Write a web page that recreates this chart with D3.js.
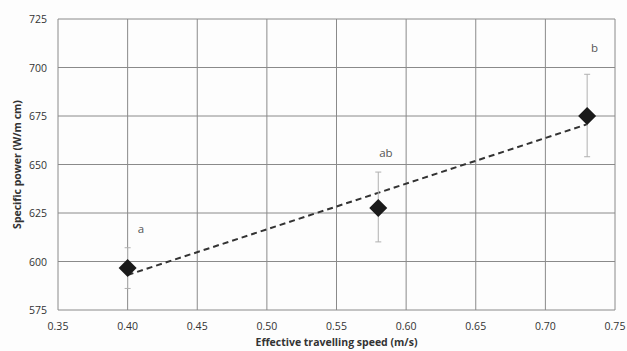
<!DOCTYPE html>
<html>
<head>
<meta charset="utf-8">
<script src="https://cdn.jsdelivr.net/npm/d3@7"></script>
<style>
  body { margin: 0; background: #fff; }
  text { font-family: "Open Sans", "Liberation Sans", sans-serif; }
</style>
</head>
<body>
<svg id="drawspace" width="627" height="351"></svg>
<script>
let speed = [0.40, 0.58, 0.73];
let power = [596.6, 627.6, 675.0];
let errUp = [10.5, 18.5, 21.5];
let errDown = [10.5, 17.5, 21.0];
let letters = ["a", "ab", "b"];
let letterX = [0.4096, 0.5855, 0.7353];
let letterY = [614.8, 653.7, 708.0];
let xTicks = [0.35, 0.40, 0.45, 0.50, 0.55, 0.60, 0.65, 0.70, 0.75];
let yTicks = [575, 600, 625, 650, 675, 700, 725];

let svg = d3.select("#drawspace");
let plotL = 58, plotR = 615, plotT = 19, plotB = 310;

let x = d3.scaleLinear().domain([0.35, 0.75]).range([plotL, plotR]);
let y = d3.scaleLinear().domain([575, 725]).range([plotB, plotT]);

svg.append("rect").attr("width", 627).attr("height", 351).attr("fill", "#fdfdfd");

// grid
svg.append("g")
  .selectAll("line")
  .data(xTicks)
  .enter()
  .append("line")
  .attr("x1", d => x(d)).attr("x2", d => x(d))
  .attr("y1", plotT).attr("y2", plotB)
  .attr("stroke", "#8a8a8a").attr("stroke-width", 1);

svg.append("g")
  .selectAll("line")
  .data(yTicks)
  .enter()
  .append("line")
  .attr("x1", plotL).attr("x2", plotR)
  .attr("y1", d => y(d)).attr("y2", d => y(d))
  .attr("stroke", "#8a8a8a").attr("stroke-width", 1);

// tick labels
svg.append("g")
  .selectAll("text")
  .data(xTicks)
  .enter()
  .append("text")
  .attr("x", d => x(d)).attr("y", plotB + 20)
  .attr("text-anchor", "middle")
  .attr("font-size", 10.5).attr("fill", "#333")
  .text(d => d.toFixed(2));

svg.append("g")
  .selectAll("text")
  .data(yTicks)
  .enter()
  .append("text")
  .attr("x", plotL - 11).attr("y", d => y(d) + 4)
  .attr("text-anchor", "end")
  .attr("font-size", 10.5).attr("fill", "#333")
  .text(d => d);

// axis titles
svg.append("text")
  .attr("x", (plotL + plotR) / 2).attr("y", 346)
  .attr("text-anchor", "middle")
  .attr("font-size", 10.5).attr("font-weight", "bold").attr("fill", "#333")
  .text("Effective travelling speed (m/s)");

svg.append("text")
  .attr("transform", "translate(21," + (plotT + plotB) / 2 + ") rotate(-90)")
  .attr("text-anchor", "middle")
  .attr("font-size", 10.5).attr("font-weight", "bold").attr("fill", "#333")
  .text("Specific power (W/m cm)");

// trend line (least squares)
let mx = d3.mean(speed), my = d3.mean(power);
let sxy = d3.sum(speed, (d, i) => (d - mx) * (power[i] - my));
let sxx = d3.sum(speed, d => (d - mx) * (d - mx));
let slope = sxy / sxx, icpt = my - slope * mx;
let xs = d3.extent(speed);
svg.append("path")
  .attr("d", d3.line()(xs.map(v => [x(v), y(icpt + slope * v)])))
  .attr("stroke", "#333").attr("stroke-width", 2)
  .attr("stroke-dasharray", "6,4").attr("fill", "none");

// error bars
let eb = svg.append("g").attr("stroke", "#b0b0b0").attr("stroke-width", 1);
speed.forEach((s, i) => {
  let cx = x(s), hi = y(power[i] + errUp[i]), lo = y(power[i] - errDown[i]);
  eb.append("line").attr("x1", cx).attr("x2", cx).attr("y1", hi).attr("y2", lo);
  eb.append("line").attr("x1", cx - 3).attr("x2", cx + 3).attr("y1", hi).attr("y2", hi);
  eb.append("line").attr("x1", cx - 3).attr("x2", cx + 3).attr("y1", lo).attr("y2", lo);
});

// diamonds
svg.append("g")
  .selectAll("path")
  .data(speed)
  .enter()
  .append("path")
  .attr("d", (d, i) => {
    let cx = x(d), cy = y(power[i]), r = 9;
    return `M${cx},${cy - r}L${cx + r},${cy}L${cx},${cy + r}L${cx - r},${cy}Z`;
  })
  .attr("fill", "#1a1a1a");

// significance letters
svg.append("g")
  .selectAll("text")
  .data(letters)
  .enter()
  .append("text")
  .attr("x", (d, i) => x(letterX[i]))
  .attr("y", (d, i) => y(letterY[i]))
  .attr("text-anchor", "middle")
  .attr("font-size", 11.5).attr("fill", "#555")
  .text(d => d);
</script>
</body>
</html>
